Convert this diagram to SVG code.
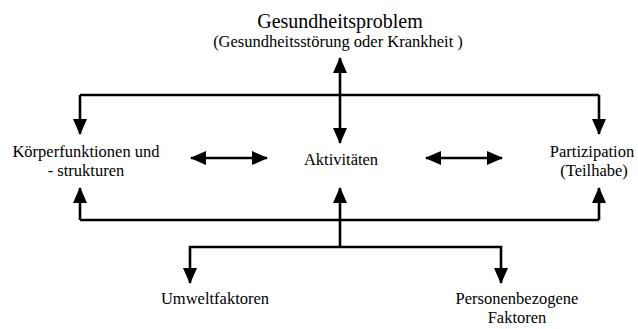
<svg xmlns="http://www.w3.org/2000/svg" width="638" height="329" viewBox="0 0 638 329">
  <style>
    text { font-family: 'Liberation Serif', 'DejaVu Serif', 'Times New Roman', serif; font-size: 16.5px; fill: #000; text-anchor: middle; }
    .title { font-size: 20px; }
    .c { fill: none; stroke: #000; stroke-width: 2.6; }
  </style>
  <defs>
    <marker id="ah" viewBox="0 0 16 14" refX="15" refY="7" markerUnits="userSpaceOnUse" markerWidth="16" markerHeight="14" orient="auto-start-reverse">
      <path d="M0,0 L16,7 L0,14 z" fill="#000"/>
    </marker>
  </defs>
  <rect width="638" height="329" fill="#fff"/>

  <g id="connectors">
    <line class="c" x1="80" y1="95" x2="599" y2="95"/>
    <line class="c" x1="340" y1="58" x2="340" y2="143" marker-start="url(#ah)" marker-end="url(#ah)"/>
    <polyline class="c" points="80,95 80,134" marker-end="url(#ah)"/>
    <polyline class="c" points="599,95 599,134" marker-end="url(#ah)"/>
    <line class="c" x1="191" y1="158" x2="267" y2="158" marker-start="url(#ah)" marker-end="url(#ah)"/>
    <line class="c" x1="426" y1="158" x2="502" y2="158" marker-start="url(#ah)" marker-end="url(#ah)"/>
    <line class="c" x1="80" y1="220" x2="599" y2="220"/>
    <line class="c" x1="80" y1="220" x2="80" y2="188" marker-end="url(#ah)"/>
    <line class="c" x1="340" y1="220" x2="340" y2="188" marker-end="url(#ah)"/>
    <line class="c" x1="599" y1="220" x2="599" y2="188" marker-end="url(#ah)"/>
    <line class="c" x1="340" y1="220" x2="340" y2="247"/>
    <polyline class="c" points="190,283 190,247 501,247 501,283" marker-start="url(#ah)" marker-end="url(#ah)"/>
  </g>

  <g id="gesundheitsproblem">
    <text class="title" x="340" y="28" font-family="Liberation Serif, serif">Gesundheitsproblem</text>
    <text x="338" y="47" font-family="Liberation Serif, serif">(Gesundheitsstörung oder Krankheit )</text>
  </g>
  <g id="koerperfunktionen">
    <text x="86" y="157" font-family="Liberation Serif, serif">Körperfunktionen und</text>
    <text x="86" y="176" font-family="Liberation Serif, serif">- strukturen</text>
  </g>
  <g id="aktivitaeten">
    <text x="341" y="165" font-family="Liberation Serif, serif">Aktivitäten</text>
  </g>
  <g id="partizipation">
    <text x="592" y="157" font-family="Liberation Serif, serif">Partizipation</text>
    <text x="594" y="176" font-family="Liberation Serif, serif">(Teilhabe)</text>
  </g>
  <g id="umweltfaktoren">
    <text x="215" y="304" font-family="Liberation Serif, serif">Umweltfaktoren</text>
  </g>
  <g id="personenbezogene">
    <text x="517" y="304" font-family="Liberation Serif, serif">Personenbezogene</text>
    <text x="517" y="323" font-family="Liberation Serif, serif">Faktoren</text>
  </g>
</svg>
